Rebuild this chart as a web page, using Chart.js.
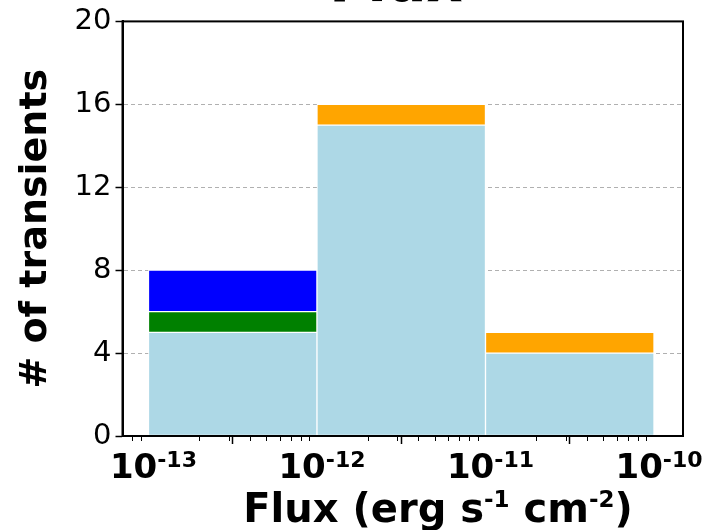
<!DOCTYPE html>
<html>
<head>
<meta charset="utf-8">
<script src="https://cdn.jsdelivr.net/npm/chart.js@4"></script>
<style>
  body { margin: 0; background: #fff; }
</style>
</head>
<body>
<canvas id="fluxChart" width="709" height="530"></canvas>
<script>
// flux bins (erg s^-1 cm^-2) and transient counts per bin
const binEdges = [1e-13, 1e-12, 1e-11, 1e-10]
const lightBlueCounts = [5, 15, 4]
const greenCounts = [1, 0, 0]
const blueCounts = [2, 0, 0]
const orangeCounts = [0, 1, 1]

const yTicks = [0, 4, 8, 12, 16, 20]
const xTickExponents = [-13, -12, -11, -10]

const titleText = 'Flux'
const yTitle = '# of transients'
const xTitleParts = [['Flux (erg s', false], ['-1', true], [' cm', false], ['-2', true], [')', false]]

const fontFamily = "'DejaVu Sans', sans-serif"

const binCenters = binEdges.slice(0, -1).map((e, i) => Math.sqrt(e * binEdges[i + 1]))

function makeSet(label, counts, color) {
  return {
    label,
    data: counts.map((c, i) => ({ x: binCenters[i], y: c })),
    backgroundColor: color,
    borderColor: '#fff',
    borderWidth: 1,
    borderSkipped: false,
    barPercentage: 1,
    categoryPercentage: 1,
  }
}

function drawRich(ctx, parts, cx, baseY, supY, baseFont, supFont) {
  let total = 0
  const widths = parts.map(([t, sup]) => {
    ctx.font = sup ? supFont : baseFont
    const w = ctx.measureText(t).width
    total += w
    return w
  })
  let x = cx - total / 2
  ctx.textAlign = 'left'
  ctx.textBaseline = 'alphabetic'
  parts.forEach(([t, sup], i) => {
    ctx.font = sup ? supFont : baseFont
    ctx.fillText(t, x, sup ? supY : baseY)
    x += widths[i]
  })
}

const extras = {
  id: 'extras',
  afterDraw(chart) {
    const { ctx, chartArea } = chart
    const xs = chart.scales.x
    ctx.save()

    // frame
    ctx.strokeStyle = '#000'
    ctx.lineWidth = 2
    ctx.strokeRect(chartArea.left, chartArea.top, chartArea.right - chartArea.left, chartArea.bottom - chartArea.top)

    // minor log ticks
    ctx.lineWidth = 1
    ctx.beginPath()
    for (let d = -14; d <= -10; d++) {
      for (let k = 2; k <= 9; k++) {
        const v = k * 10 ** d
        if (v < xs.min || v > xs.max) continue
        const px = Math.round(xs.getPixelForValue(v)) + 0.5
        ctx.moveTo(px, chartArea.bottom)
        ctx.lineTo(px, chartArea.bottom + 5)
      }
    }
    ctx.stroke()

    ctx.fillStyle = '#000'
    // x tick labels with superscripts
    xTickExponents.forEach(e => {
      const px = xs.getPixelForValue(10 ** e) + 5
      drawRich(ctx, [['10', false], ['' + e, true]], px, 478, 467,
        `bold 34px ${fontFamily}`, `bold 22px ${fontFamily}`)
    })

    // x axis title
    drawRich(ctx, xTitleParts, 438, 522, 507, `bold 40px ${fontFamily}`, `bold 23px ${fontFamily}`)

    // chart title, cut off at top of the figure
    ctx.font = `bold 56px ${fontFamily}`
    ctx.textAlign = 'center'
    ctx.textBaseline = 'alphabetic'
    ctx.fillText(titleText, 396, 1)

    ctx.restore()
  }
}

new Chart(document.getElementById('fluxChart'), {
  type: 'bar',
  data: {
    datasets: [
      makeSet('base', lightBlueCounts, '#add8e6'),
      makeSet('green', greenCounts, '#008000'),
      makeSet('blue', blueCounts, '#0000ff'),
      makeSet('orange', orangeCounts, '#ffa500'),
    ]
  },
  options: {
    responsive: false,
    animation: false,
    layout: { padding: { left: 5, right: 26, top: 20, bottom: 86 } },
    plugins: {
      legend: { display: false },
      tooltip: { enabled: false },
    },
    scales: {
      x: {
        type: 'logarithmic',
        stacked: true,
        min: 10 ** -13.154,
        max: 10 ** -9.828,
        afterBuildTicks: s => { s.ticks = xTickExponents.map(e => ({ value: 10 ** e })) },
        ticks: { display: false },
        grid: { drawOnChartArea: false, tickLength: 8, tickColor: '#000', tickWidth: 1.5 },
        border: { color: '#000', width: 2 },
      },
      y: {
        stacked: true,
        min: 0,
        max: 20,
        afterBuildTicks: s => { s.ticks = yTicks.map(v => ({ value: v })) },
        ticks: { color: '#000', padding: 4, font: { family: fontFamily, size: 29 } },
        grid: { color: '#b0b0b0', lineWidth: 1, tickLength: 7, tickColor: '#000', tickWidth: 1.5 },
        border: { color: '#000', width: 2, dash: [4, 3] },
        title: {
          display: true,
          text: yTitle,
          color: '#000',
          padding: { top: 8, bottom: 12 },
          font: { family: fontFamily, size: 38, weight: 'bold', lineHeight: 1.2 },
        },
      },
    },
  },
  plugins: [extras],
})
</script>
</body>
</html>
